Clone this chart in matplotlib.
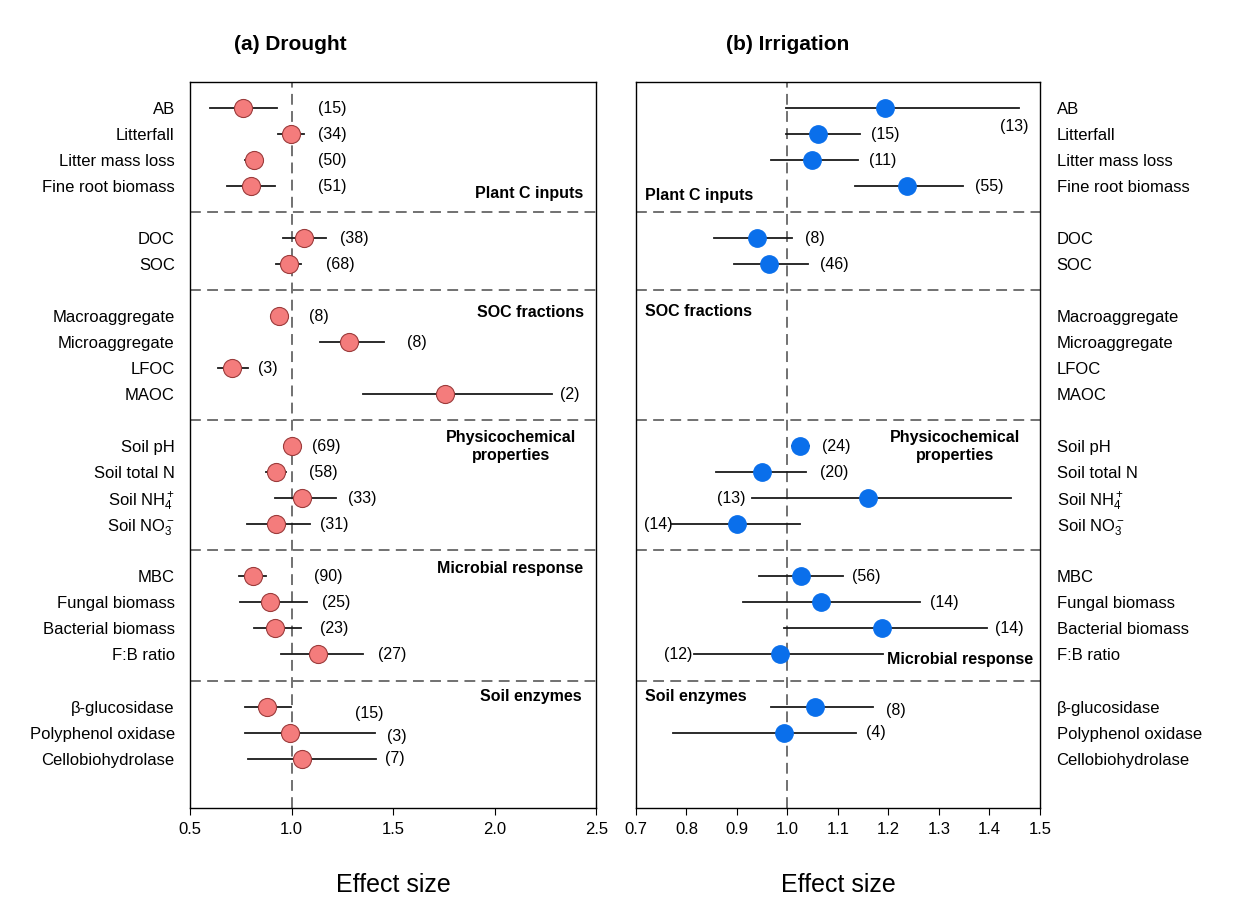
import numpy as np
import matplotlib
matplotlib.use("Agg")
import matplotlib.pyplot as plt
import matplotlib.transforms as mtransforms

plt.rcParams['font.family'] = ['Liberation Sans', 'DejaVu Sans']
plt.rcParams['mathtext.fontset'] = 'custom'
plt.rcParams['mathtext.rm'] = 'Liberation Sans'
plt.rcParams['mathtext.it'] = 'Liberation Sans'

# variables (same order in both panels)
names = ["AB", "Litterfall", "Litter mass loss", "Fine root biomass",
         "DOC", "SOC",
         "Macroaggregate", "Microaggregate", "LFOC", "MAOC",
         "Soil pH", "Soil total N", "Soil NH$_4^+$", "Soil NO$_3^-$",
         "MBC", "Fungal biomass", "Bacterial biomass", "F:B ratio",
         "β-glucosidase", "Polyphenol oxidase", "Cellobiohydrolase"]
group_sizes = [4, 2, 4, 4, 4, 3]

# (a) drought
d_mean = [0.76, 0.995, 0.815, 0.80, 1.06, 0.985, 0.94, 1.285, 0.705, 1.755,
          1.0, 0.925, 1.05, 0.925, 0.808, 0.893, 0.92, 1.13, 0.877, 0.99, 1.05]
d_lo = [0.60, 0.935, 0.77, 0.68, 0.96, 0.925, 0.92, 1.14, 0.64, 1.35,
        0.985, 0.875, 0.92, 0.78, 0.74, 0.745, 0.815, 0.95, 0.77, 0.77, 0.785]
d_hi = [0.93, 1.06, 0.86, 0.92, 1.17, 1.045, 0.965, 1.455, 0.785, 2.28,
        1.015, 0.975, 1.22, 1.09, 0.875, 1.075, 1.045, 1.35, 0.995, 1.41, 1.415]
d_n = [15, 34, 50, 51, 38, 68, 8, 8, 3, 2, 69, 58, 33, 31, 90, 25, 23, 27, 15, 3, 7]

# (b) irrigation (nan = no data)
nan = np.nan
i_mean = [1.193, 1.06, 1.048, 1.236, 0.94, 0.963, nan, nan, nan, nan,
          1.024, 0.949, 1.159, 0.901, 1.026, 1.066, 1.188, 0.986, 1.054, 0.993, nan]
i_lo = [0.997, 0.997, 0.967, 1.134, 0.855, 0.895, nan, nan, nan, nan,
        1.009, 0.859, 0.929, 0.772, 0.944, 0.911, 0.994, 0.815, 0.968, 0.774, nan]
i_hi = [1.458, 1.144, 1.14, 1.347, 1.009, 1.041, nan, nan, nan, nan,
        1.042, 1.037, 1.442, 1.024, 1.111, 1.263, 1.396, 1.189, 1.169, 1.136, nan]
i_n = [13, 15, 11, 55, 8, 46, None, None, None, None,
       24, 20, 13, 14, 56, 14, 14, 12, 8, 4, None]

# where the sample-size labels sit
d_nx = [1.13, 1.13, 1.13, 1.13, 1.24, 1.17, 1.085, 1.57, 0.835, 2.32,
        1.10, 1.085, 1.28, 1.14, 1.11, 1.15, 1.14, 1.425, 1.31, 1.47, 1.46]
d_ndy = [0]*18 + [0.25, 0.15, 0]
i_nx = [1.45, 1.166, 1.162, 1.371, 1.034, 1.065, 0, 0, 0, 0,
        1.068, 1.064, 0.917, 0.772, 1.128, 1.283, 1.412, 0.812, 1.195, 1.156, 0]
i_ha = ['center', 'left', 'left', 'left', 'left', 'left', 'left', 'left', 'left', 'left',
        'left', 'left', 'right', 'right', 'left', 'left', 'left', 'right', 'left', 'left', 'left']
i_ndy = [0.7] + [0]*17 + [0.15, 0, 0]

# row positions: one blank row between groups
ypos = []
start = 0
for g in group_sizes:
    ypos += list(range(start, start + g))
    start += g + 1
ypos = np.array(ypos, dtype=float)
dividers = []
k = 0
for g in group_sizes[:-1]:
    k += g
    dividers.append((ypos[k - 1] + ypos[k]) / 2)

fig = plt.figure(figsize=(12.46, 9), dpi=100)
ax1 = fig.add_axes([0.1525, 0.1022, 0.326, 0.8067])
ax2 = fig.add_axes([0.5104, 0.1022, 0.3242, 0.8067])

grey = '#666666'
for ax in (ax1, ax2):
    ax.set_ylim(26.9, -1.0)
    ax.axvline(1.0, color=grey, ls=(0, (6, 3.5)), lw=1.3, zorder=1)
    for d in dividers:
        ax.axhline(d, color=grey, ls=(0, (6, 3.5)), lw=1.3, zorder=1)
    ax.set_yticks(ypos)
    ax.set_yticklabels(names, fontsize=12)
    ax.tick_params(axis='y', length=0)
    ax.tick_params(axis='x', direction='out', length=5, labelsize=12, pad=5)
    for s in ax.spines.values():
        s.set_linewidth(1.0)
    ax.set_xlabel('Effect size', fontsize=18, labelpad=26)

# panel a
ax1.set_xlim(0.5, 2.5)
ax1.set_xticks([0.5, 1.0, 1.5, 2.0, 2.5])
ax1.tick_params(axis='y', pad=11)
for i in range(len(names)):
    ax1.plot([d_lo[i], d_hi[i]], [ypos[i], ypos[i]], color='#1a1a1a', lw=1.3, zorder=2)
    ax1.plot(d_mean[i], ypos[i], 'o', ms=13, mfc='#F47C7C', mec='#9B3B3B', mew=0.8, zorder=3)
    ax1.text(d_nx[i], ypos[i] + d_ndy[i], f"({d_n[i]})", fontsize=11.5,
             ha='left', va='center')

# panel b
ax2.set_xlim(0.7, 1.5)
ax2.set_xticks(np.arange(0.7, 1.51, 0.1))
ax2.set_xticklabels([f"{v:.1f}" for v in np.arange(0.7, 1.51, 0.1)])
ax2.yaxis.tick_right()
ax2.tick_params(axis='y', pad=12)
for lab in ax2.get_yticklabels():
    lab.set_horizontalalignment('left')
for i in range(len(names)):
    if np.isnan(i_mean[i]):
        continue
    ax2.plot([i_lo[i], i_hi[i]], [ypos[i], ypos[i]], color='#1a1a1a', lw=1.3, zorder=2)
    ax2.plot(i_mean[i], ypos[i], 'o', ms=12.5, mfc='#0A6FEB', mec='#0A6FEB', zorder=3)
    ax2.text(i_nx[i], ypos[i] + i_ndy[i], f"({i_n[i]})", fontsize=11.5,
             ha=i_ha[i], va='center')

# group headings
t1 = mtransforms.blended_transform_factory(ax1.transAxes, ax1.transData)
t2 = mtransforms.blended_transform_factory(ax2.transAxes, ax2.transData)
kw = dict(fontsize=11.5, fontweight='bold', va='center')
ax1.text(0.968, 3.3, "Plant C inputs", transform=t1, ha='right', **kw)
ax1.text(0.97, 7.85, "SOC fractions", transform=t1, ha='right', **kw)
ax1.text(0.79, 13.0, "Physicochemical\nproperties", transform=t1, ha='center',
         multialignment='center', linespacing=1.2, **kw)
ax1.text(0.968, 17.7, "Microbial response", transform=t1, ha='right', **kw)
ax1.text(0.963, 22.6, "Soil enzymes", transform=t1, ha='right', **kw)
ax2.text(0.022, 3.38, "Plant C inputs", transform=t2, ha='left', **kw)
ax2.text(0.022, 7.83, "SOC fractions", transform=t2, ha='left', **kw)
ax2.text(0.79, 13.0, "Physicochemical\nproperties", transform=t2, ha='center',
         multialignment='center', linespacing=1.2, **kw)
ax2.text(0.983, 21.2, "Microbial response", transform=t2, ha='right', **kw)
ax2.text(0.022, 22.6, "Soil enzymes", transform=t2, ha='left', **kw)

fig.text(0.233, 0.95, "(a) Drought", fontsize=15, fontweight='bold', ha='center', va='center')
fig.text(0.632, 0.95, "(b) Irrigation", fontsize=15, fontweight='bold', ha='center', va='center')

fig.savefig("out.png", dpi=100)
